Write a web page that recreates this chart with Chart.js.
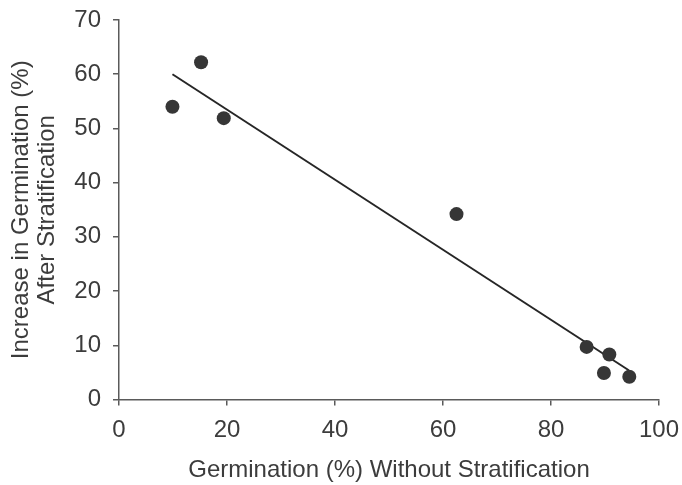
<!DOCTYPE html>
<html>
<head>
<meta charset="utf-8">
<script src="https://cdn.jsdelivr.net/npm/chart.js@4"></script>
<style>
html, body { margin: 0; padding: 0; background: #ffffff; }
#wrap { width: 682px; height: 485px; }
</style>
</head>
<body>
<div id="wrap"><canvas id="germ_chart" width="682" height="485"></canvas></div>
<script>
// germination (%) without stratification vs increase after stratification
const germ_without = [9.9, 15.2, 19.4, 62.5, 86.6, 89.8, 90.8, 94.5];
const germ_increase = [54.0, 62.2, 51.9, 34.2, 9.7, 4.9, 8.3, 4.2];

// fitted trend line at both ends
const trend_x = [9.9, 94.4];
const trend_y = [60.0, 5.4];

const x_title = 'Germination (%) Without Stratification';
const y_title = ['Increase in Germination (%)', 'After Stratification'];

const text_color = '#3c3c3c';
const axis_color = '#5a5a5a';
const font_family = "'Liberation Sans', Arial, sans-serif";

var points = germ_without.map((x, i) => ({x: x, y: germ_increase[i]}));
var trend = trend_x.map((x, i) => ({x: x, y: trend_y[i]}));

var ctx = document.getElementById('germ_chart');
new Chart(ctx, {
    type: 'scatter',
    data: {
        datasets: [{
            label: 'Species',
            data: points,
            pointRadius: 7,
            pointHoverRadius: 7,
            pointBackgroundColor: '#363636',
            pointBorderColor: '#363636',
            pointBorderWidth: 0,
        }, {
            label: 'Trend',
            data: trend,
            showLine: true,
            pointRadius: 0,
            borderColor: '#262626',
            borderWidth: 2,
            fill: false,
        }]
    },
    options: {
        responsive: false,
        devicePixelRatio: 1,
        animation: false,
        layout: {
            autoPadding: false,
            padding: {top: 20, right: 23, bottom: 2, left: 0}
        },
        plugins: {
            legend: {display: false},
            tooltip: {enabled: false},
        },
        scales: {
            x: {
                type: 'linear',
                min: 0,
                max: 100,
                ticks: {
                    stepSize: 20,
                    color: text_color,
                    padding: 10,
                    font: {family: font_family, size: 24},
                },
                grid: {
                    drawOnChartArea: false,
                    drawTicks: true,
                    tickLength: 6,
                    color: axis_color,
                    lineWidth: 1.5,
                },
                border: {display: true, color: axis_color, width: 1.5},
                title: {
                    display: true,
                    text: x_title,
                    color: text_color,
                    padding: {top: 0, bottom: 0},
                    font: {family: font_family, size: 24, lineHeight: 1.06},
                },
                afterFit: function (scale) {
                    // keep the plot area pinned, labels may overhang
                    scale.height = 83.5;
                    scale.paddingLeft = 0;
                    scale.paddingRight = 0;
                }
            },
            y: {
                type: 'linear',
                min: 0,
                max: 70,
                ticks: {
                    stepSize: 10,
                    color: text_color,
                    padding: 12,
                    font: {family: font_family, size: 24},
                },
                grid: {
                    drawOnChartArea: false,
                    drawTicks: true,
                    tickLength: 6,
                    color: axis_color,
                    lineWidth: 1.5,
                },
                border: {display: true, color: axis_color, width: 1.5},
                title: {
                    display: true,
                    text: y_title,
                    color: text_color,
                    padding: {top: 9, bottom: 0},
                    font: {family: font_family, size: 24, lineHeight: 1.06},
                },
                afterFit: function (scale) {
                    scale.width = 119;
                    scale.paddingTop = 0;
                    scale.paddingBottom = 0;
                }
            }
        }
    }
});
</script>
</body>
</html>
